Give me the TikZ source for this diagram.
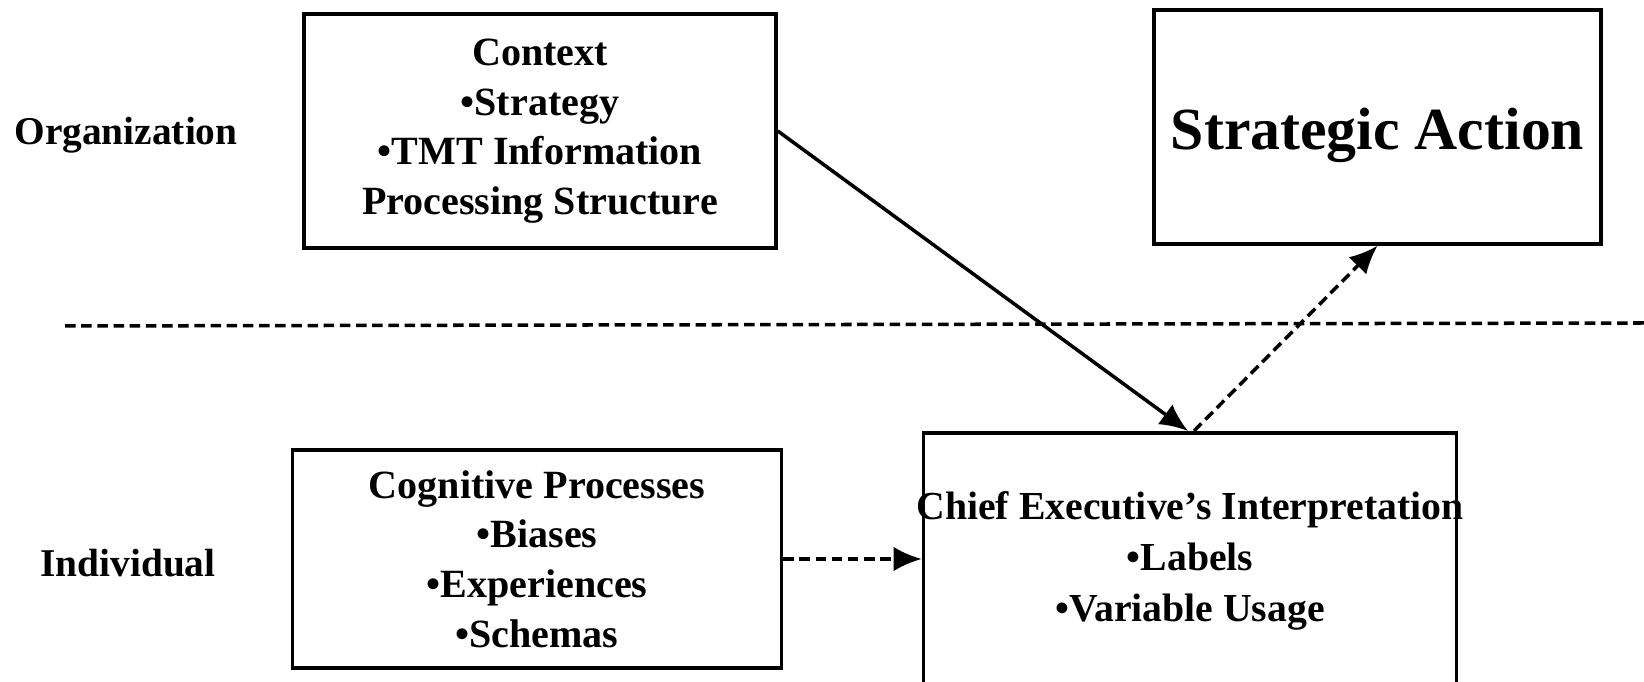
\documentclass[tikz,border=0pt]{standalone}
\usepackage{fontspec}
\setmainfont{Liberation Serif}
\usepackage{tikz}
\usetikzlibrary{arrows.meta,shapes}
\tikzstyle{box}=[draw,line width=1pt,rectangle,inner sep=0pt]
\tikzstyle{box text}=[align=center,font=\fontsize{11.4}{14.1}\selectfont\bfseries]
\tikzstyle{tier label}=[font=\fontsize{11.2}{13}\selectfont\bfseries]
\tikzstyle{edge} = [draw,line width=1pt,-{Latex[length=8pt,width=7pt]}]
\tikzstyle{dashed edge} = [edge,dash pattern=on 3pt off 1.6pt]
\tikzstyle{divider} = [draw,line width=1pt,dash pattern=on 3pt off 1.6pt]

\begin{document}
\begin{tikzpicture}[x=0.1mm,y=-0.1mm]
        \clip (0,0) rectangle (1644,682);
        %\tikzset{edge/.style = {->,>=latex'}}
        \node[tier label] (org) at (126,135) {Organization};
        \node[tier label] (indiv) at (128,563) {Individual};
        \node[box,box text,minimum width=47.2mm,minimum height=23.4mm] (context) at (540,131)
            {Context\\•Strategy\\•TMT Information\\Processing Structure};
        \node[box,minimum width=44.7mm,minimum height=23.4mm,text height=16.4pt,text depth=3.7pt,font=\fontsize{17}{20}\selectfont\bfseries] (action) at (1377.5,127) {Strategic Action};
        \node[box,box text,minimum width=48.9mm,minimum height=21.8mm] (cognitive) at (537,559)
            {Cognitive Processes\\•Biases\\•Experiences\\•Schemas};
        \node[box,minimum width=53.3mm,minimum height=30mm,anchor=north] (chief) at (1190,431) {};
        \node[box text,font=\fontsize{11.3}{14.6}\selectfont\bfseries] (chieftext) at (1190,561)
            {Chief Executive’s Interpretation\\•Labels\\•Variable Usage};
        \coordinate (divl) at (65,326);
        \coordinate (divr) at (1644,323);
        \draw[divider] (divl) to (divr);
        \draw[edge] (context.east) to ([xshift=-0.2mm]chief.north);
        \draw[dashed edge] ([xshift=0.4mm]chief.north) to (action.south);
        \draw[dashed edge] (cognitive.east) to (cognitive.east -| chief.west);
      \end{tikzpicture}
\end{document}
